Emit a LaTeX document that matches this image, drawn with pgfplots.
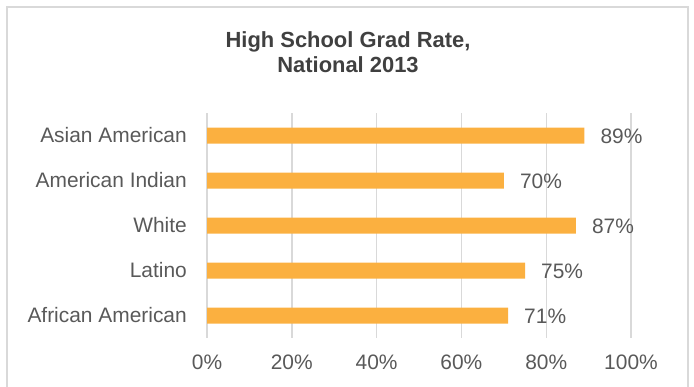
\documentclass[border=0pt]{standalone}
\usepackage{pgfplots}
\pgfplotsset{compat=1.18}
\usepackage{fontspec}
\setmainfont{Liberation Sans}
\definecolor{barc}{HTML}{FBB040}
\definecolor{gridc}{HTML}{D9D9D9}
\definecolor{txt}{HTML}{595959}
\definecolor{ttl}{HTML}{404040}
\begin{document}
\begin{tikzpicture}
\path[use as bounding box] (0,0) rectangle (694bp,387bp);
\draw[gridc, line width=1.5bp] (7bp,-20bp) rectangle (688bp,380bp);
\node[anchor=base, font=\fontsize{22}{26}\selectfont\bfseries, text=ttl, inner sep=0pt] at (348bp,339bp) {High School Grad Rate,};
\node[anchor=base, font=\fontsize{22}{26}\selectfont\bfseries, text=ttl, inner sep=0pt] at (348bp,314bp) {National 2013};
\begin{axis}[
  at={(207bp,49bp)}, anchor=south west,
  scale only axis, width=424bp, height=225bp,
  xbar, bar width=16bp,
  xmin=0, xmax=100, ymin=-0.5, ymax=4.5,
  xtick={0,20,40,60,80,100},
  ytick={0,1,2,3,4},
  yticklabels={African American, Latino, White, American Indian, Asian American},
  xticklabel={\pgfmathprintnumber{\tick}\%},
  /pgf/number format/assume math mode=true,
  xmajorgrids, grid style={gridc, line width=1.4bp},
  axis line style={draw=none},
  major tick length=0pt,
  tick style={draw=none},
  ticklabel style={font=\fontsize{21}{25}\selectfont, text=txt, inner sep=0pt},
  yticklabel style={anchor=east, xshift=-20bp},
  xticklabel style={anchor=north, yshift=-17bp},
  point meta=x,
  nodes near coords={\pgfmathprintnumber{\pgfplotspointmeta}\%},
  every node near coord/.append style={anchor=west, inner sep=0pt, xshift=16bp, yshift=-1bp, font=\fontsize{21}{25}\selectfont, text=txt},
  clip=false,
]
\addplot[fill=barc, draw=none] coordinates {(71,0) (75,1) (87,2) (70,3) (89,4)};
\end{axis}
\end{tikzpicture}
\end{document}
